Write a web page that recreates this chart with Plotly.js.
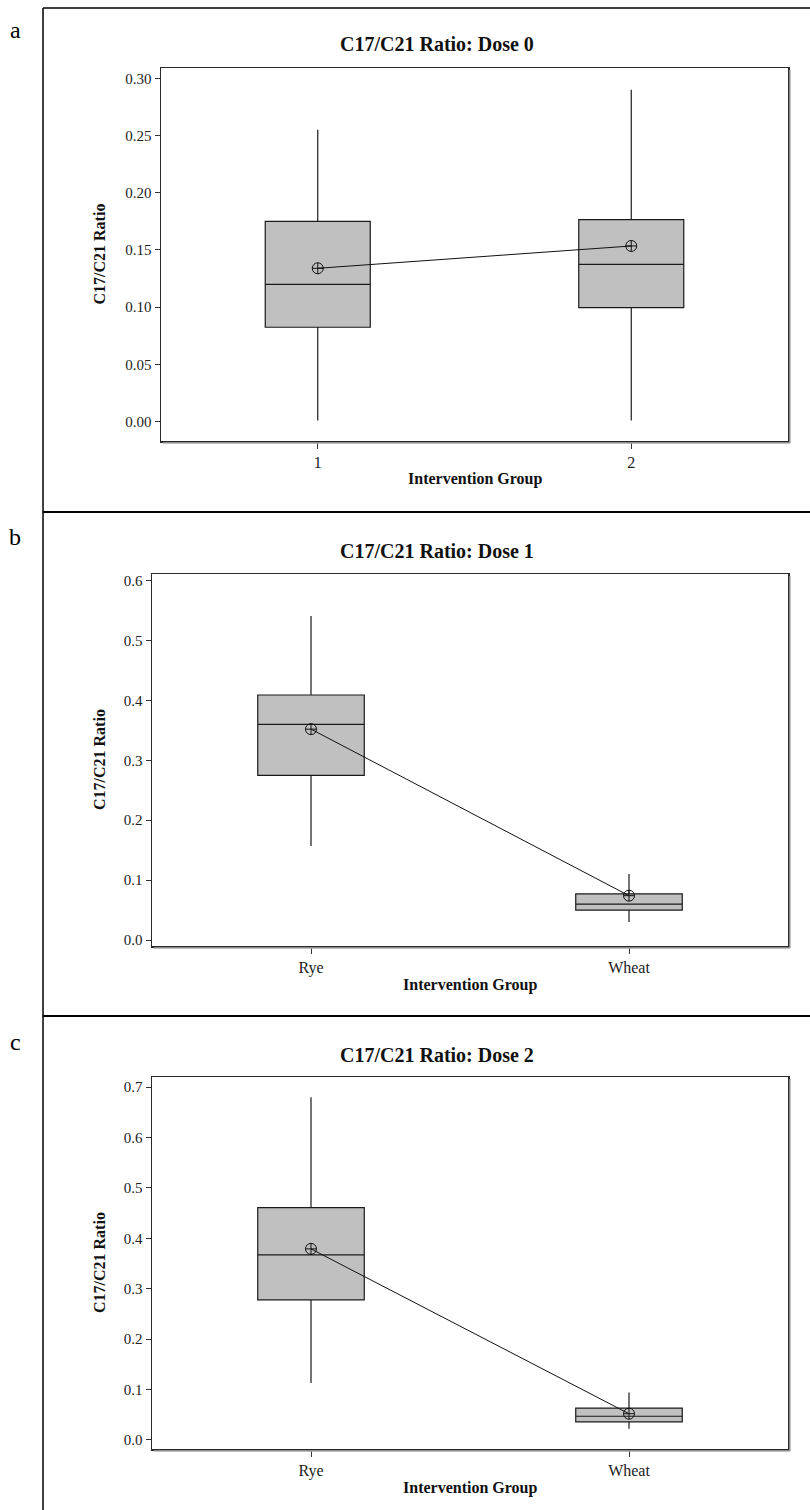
<!DOCTYPE html>
<html>
<head>
<meta charset="utf-8">
<script src="https://cdn.plot.ly/plotly-3.0.1.min.js"></script>
<style>
  html, body { margin: 0; padding: 0; background: #fff; }
  #chart { width: 810px; height: 1510px; }
</style>
</head>
<body>
<div id="chart"></div>
<script>
// ---- Data ----
const groupsDose0 = ['1', '2'];
const groupsDose12 = ['Rye', 'Wheat'];

const dose0Low    = [0.001, 0.001];
const dose0Q1     = [0.0825, 0.0996];
const dose0Median = [0.120, 0.1375];
const dose0Q3     = [0.175, 0.1765];
const dose0High   = [0.255, 0.290];
const dose0Mean   = [0.134, 0.1535];

const dose1Low    = [0.157, 0.030];
const dose1Q1     = [0.275, 0.050];
const dose1Median = [0.360, 0.060];
const dose1Q3     = [0.409, 0.077];
const dose1High   = [0.541, 0.110];
const dose1Mean   = [0.352, 0.074];

const dose2Low    = [0.113, 0.022];
const dose2Q1     = [0.278, 0.036];
const dose2Median = [0.367, 0.047];
const dose2Q3     = [0.461, 0.063];
const dose2High   = [0.680, 0.094];
const dose2Mean   = [0.379, 0.052];

const panelTitles = ['C17/C21 Ratio: Dose 0', 'C17/C21 Ratio: Dose 1', 'C17/C21 Ratio: Dose 2'];
const panelLetters = ['a', 'b', 'c'];
const yTitle = 'C17/C21 Ratio';
const xTitle = 'Intervention Group';

// ---- Helpers ----
const W = 810, H = 1510;
const px = v => v / W;
const py = v => 1 - v / H;
const SERIF = '"Liberation Serif", "Times New Roman", serif';

function boxTraces(cats, low, q1, med, q3, high, mean, xa, ya) {
  const traces = [];
  cats.forEach((c, i) => {
    traces.push({
      type: 'box', x: [c], q1: [q1[i]], median: [med[i]], q3: [q3[i]],
      lowerfence: [low[i]], upperfence: [high[i]],
      width: 0.335, whiskerwidth: 0, boxpoints: false,
      fillcolor: '#c0c0c0', line: { color: '#1a1a1a', width: 1.2 },
      hoverinfo: 'skip', showlegend: false, xaxis: xa, yaxis: ya
    });
  });
  traces.push({
    type: 'scatter', mode: 'lines+markers', x: cats, y: mean,
    line: { color: '#111', width: 1 },
    marker: { symbol: 'circle-cross-open', size: 11, color: '#111', line: { width: 1, color: '#111' } },
    showlegend: false, hoverinfo: 'skip', xaxis: xa, yaxis: ya
  });
  return traces;
}

const data = [].concat(
  boxTraces(groupsDose0, dose0Low, dose0Q1, dose0Median, dose0Q3, dose0High, dose0Mean, 'x', 'y'),
  boxTraces(groupsDose12, dose1Low, dose1Q1, dose1Median, dose1Q3, dose1High, dose1Mean, 'x2', 'y2'),
  boxTraces(groupsDose12, dose2Low, dose2Q1, dose2Median, dose2Q3, dose2High, dose2Mean, 'x3', 'y3')
);

// plot area pixel boxes [left, right, top, bottom]
const areas = [
  [161, 788, 68, 441],
  [152, 788, 574, 946],
  [152, 788, 1077, 1449]
];

function xAxis(area, cats, anchor) {
  return {
    domain: [px(area[0]), px(area[1])], anchor: anchor,
    type: 'category', categoryarray: cats, range: [-0.5, 1.5],
    showline: true, mirror: true, linecolor: '#2a2a2a', linewidth: 1.5,
    ticks: 'outside', ticklen: 6, tickwidth: 1, tickcolor: '#333',
    showgrid: false, zeroline: false, fixedrange: true,
    tickfont: { family: SERIF, size: 16, color: '#222' }
  };
}
function yAxis(area, range, dtick, fmt, anchor) {
  return {
    domain: [py(area[3]), py(area[2])], anchor: anchor,
    range: range, dtick: dtick, tick0: 0, tickformat: fmt,
    showline: true, mirror: true, linecolor: '#2a2a2a', linewidth: 1.5,
    ticks: 'outside', ticklen: 5, tickwidth: 1, tickcolor: '#333',
    showgrid: false, zeroline: false, fixedrange: true,
    tickfont: { family: SERIF, size: 15, color: '#222' }
  };
}

const annotations = [];
const titleY = [44, 551, 1055];
const letterY = [30, 537, 1042];
const xTitleY = [479, 985, 1488];
areas.forEach((a, i) => {
  annotations.push({ xref: 'paper', yref: 'paper', x: px(437), y: py(titleY[i]), text: '<b>' + panelTitles[i] + '</b>',
    showarrow: false, xanchor: 'center', yanchor: 'middle', font: { family: SERIF, size: 20, color: '#111' } });
  annotations.push({ xref: 'paper', yref: 'paper', x: px(15), y: py(letterY[i]), text: panelLetters[i],
    showarrow: false, xanchor: 'center', yanchor: 'middle', font: { family: SERIF, size: 24, color: '#000' } });
  annotations.push({ xref: 'paper', yref: 'paper', x: px((a[0] + a[1]) / 2), y: py(xTitleY[i]), text: '<b>' + xTitle + '</b>',
    showarrow: false, xanchor: 'center', yanchor: 'middle', font: { family: SERIF, size: 16, color: '#111' } });
  annotations.push({ xref: 'paper', yref: 'paper', x: px(99), y: py((a[2] + a[3]) / 2), text: '<b>' + yTitle + '</b>',
    showarrow: false, textangle: -90, xanchor: 'center', yanchor: 'middle', font: { family: SERIF, size: 16, color: '#111' } });
});

const shapes = [
  // outer frame
  { type: 'line', xref: 'paper', yref: 'paper', x0: px(43), x1: px(43), y0: py(8), y1: 0, line: { color: '#000', width: 1.5 } },
  { type: 'line', xref: 'paper', yref: 'paper', x0: px(43), x1: 1, y0: py(8), y1: py(8), line: { color: '#000', width: 1.5 } },
  { type: 'line', xref: 'paper', yref: 'paper', x0: px(43), x1: 1, y0: py(512), y1: py(512), line: { color: '#000', width: 2 } },
  { type: 'line', xref: 'paper', yref: 'paper', x0: px(43), x1: 1, y0: py(1016), y1: py(1016), line: { color: '#000', width: 2 } }
];
// subtle shadow on right/bottom of plot frames
areas.forEach(a => {
  shapes.push({ type: 'line', xref: 'paper', yref: 'paper', x0: px(a[1] + 2), x1: px(a[1] + 2), y0: py(a[2] + 2), y1: py(a[3] + 2), line: { color: '#aaa', width: 1.5 } });
  shapes.push({ type: 'line', xref: 'paper', yref: 'paper', x0: px(a[0] + 2), x1: px(a[1] + 2), y0: py(a[3] + 2), y1: py(a[3] + 2), line: { color: '#aaa', width: 1.5 } });
});

const layout = {
  width: W, height: H,
  margin: { l: 0, r: 0, t: 0, b: 0 },
  paper_bgcolor: '#fff', plot_bgcolor: '#fff',
  showlegend: false,
  font: { family: SERIF, color: '#222' },
  xaxis: xAxis(areas[0], groupsDose0, 'y'),
  yaxis: yAxis(areas[0], [-0.0169, 0.309], 0.05, '.2f', 'x'),
  xaxis2: xAxis(areas[1], groupsDose12, 'y2'),
  yaxis2: yAxis(areas[1], [-0.010, 0.611], 0.1, '.1f', 'x2'),
  xaxis3: xAxis(areas[2], groupsDose12, 'y3'),
  yaxis3: yAxis(areas[2], [-0.018, 0.720], 0.1, '.1f', 'x3'),
  annotations: annotations,
  shapes: shapes
};

Plotly.newPlot('chart', data, layout, { displayModeBar: false, staticPlot: true });
</script>
</body>
</html>
